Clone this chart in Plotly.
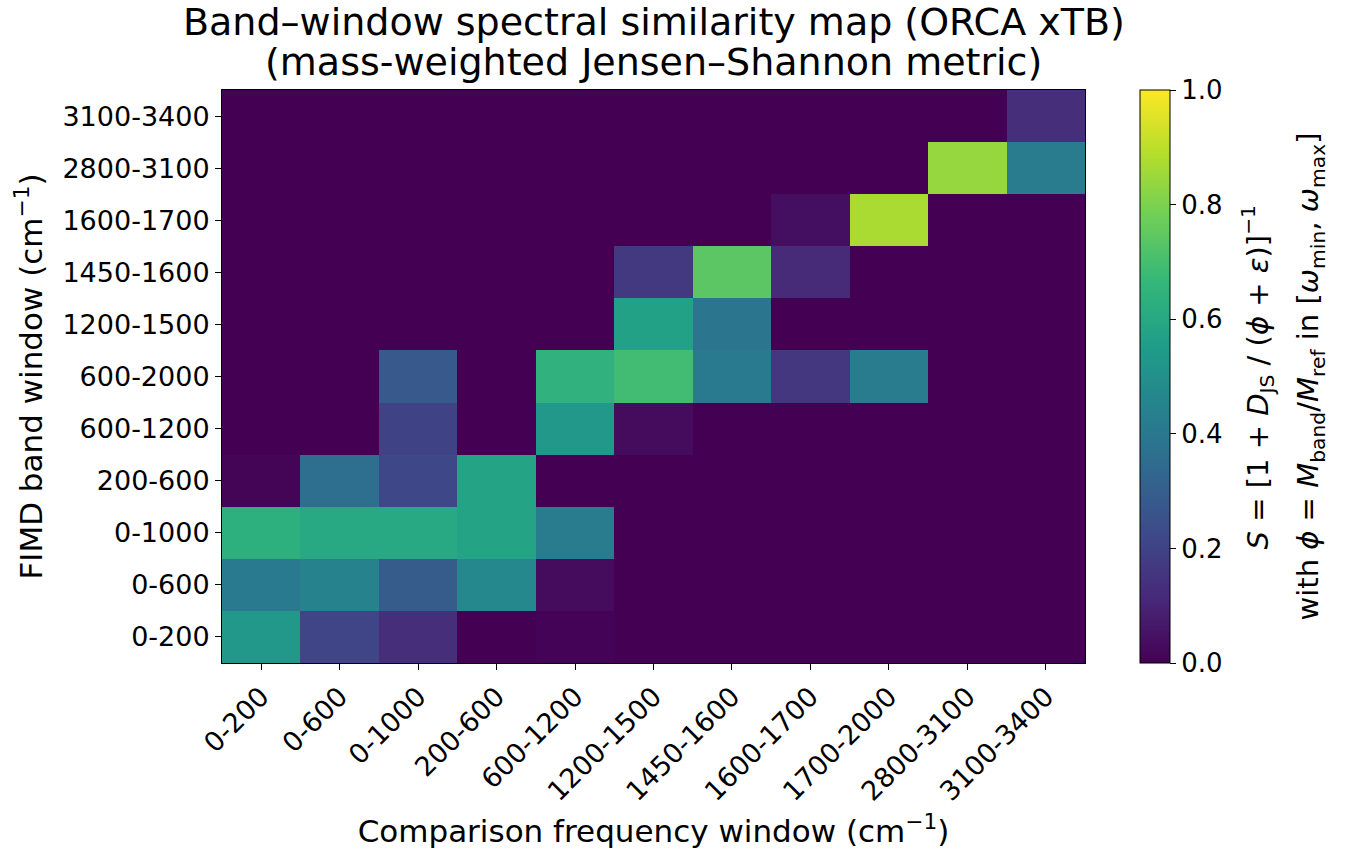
import plotly.graph_objects as go

# FIMD band windows (rows, bottom to top) and comparison windows (columns)
fimd_bands = ["0-200", "0-600", "0-1000", "200-600", "600-1200", "600-2000",
              "1200-1500", "1450-1600", "1600-1700", "2800-3100", "3100-3400"]
comparison_windows = ["0-200", "0-600", "0-1000", "200-600", "600-1200", "1200-1500",
                      "1450-1600", "1600-1700", "1700-2000", "2800-3100", "3100-3400"]

# Similarity S for each FIMD band (one list per row, columns follow comparison_windows)
s_0_200     = [0.53, 0.21, 0.13, 0.00, 0.005, 0.0, 0.0, 0.0, 0.0, 0.0, 0.0]
s_0_600     = [0.41, 0.45, 0.29, 0.47, 0.03, 0.0, 0.0, 0.0, 0.0, 0.0, 0.0]
s_0_1000    = [0.63, 0.60, 0.60, 0.58, 0.42, 0.0, 0.0, 0.0, 0.0, 0.0, 0.0]
s_200_600   = [0.01, 0.36, 0.22, 0.58, 0.0, 0.0, 0.0, 0.0, 0.0, 0.0, 0.0]
s_600_1200  = [0.0, 0.0, 0.20, 0.0, 0.53, 0.03, 0.0, 0.0, 0.0, 0.0, 0.0]
s_600_2000  = [0.0, 0.0, 0.28, 0.0, 0.64, 0.69, 0.41, 0.16, 0.42, 0.0, 0.0]
s_1200_1500 = [0.0, 0.0, 0.0, 0.0, 0.0, 0.57, 0.39, 0.0, 0.0, 0.0, 0.0]
s_1450_1600 = [0.0, 0.0, 0.0, 0.0, 0.0, 0.17, 0.74, 0.12, 0.0, 0.0, 0.0]
s_1600_1700 = [0.0, 0.0, 0.0, 0.0, 0.0, 0.0, 0.0, 0.04, 0.87, 0.0, 0.0]
s_2800_3100 = [0.0, 0.0, 0.0, 0.0, 0.0, 0.0, 0.0, 0.0, 0.0, 0.84, 0.42]
s_3100_3400 = [0.0, 0.0, 0.0, 0.0, 0.0, 0.0, 0.0, 0.0, 0.0, 0.0, 0.13]

similarity = [s_0_200, s_0_600, s_0_1000, s_200_600, s_600_1200, s_600_2000,
              s_1200_1500, s_1450_1600, s_1600_1700, s_2800_3100, s_3100_3400]

FONT = "DejaVu Sans"

fig = go.Figure(
    go.Heatmap(
        z=similarity,
        x=comparison_windows,
        y=fimd_bands,
        colorscale="Viridis",
        zmin=0.0,
        zmax=1.0,
        colorbar=dict(
            x=1.0637,
            xanchor="left",
            xpad=0,
            y=0.5,
            yanchor="middle",
            ypad=0,
            len=1.0,
            lenmode="fraction",
            thickness=30,
            outlinewidth=1,
            outlinecolor="black",
            ticks="outside",
            ticklen=6,
            tickcolor="black",
            tickvals=[0.0, 0.2, 0.4, 0.6, 0.8, 1.0],
            ticktext=["0.0", "0.2", "0.4", "0.6", "0.8", "1.0"],
            tickfont=dict(family=FONT, size=26, color="black"),
        ),
        hovertemplate="%{y} vs %{x}: %{z:.2f}<extra></extra>",
    )
)

# Two-line title, each line placed above the plotting area
title_lines = ["Band–window spectral similarity map (ORCA xTB)",
               "(mass-weighted Jensen–Shannon metric)"]
title_y = [1.1187, 1.0489]
for line, yy in zip(title_lines, title_y):
    fig.add_annotation(
        text=line, x=0.5, y=yy, xref="paper", yref="paper",
        xanchor="center", yanchor="middle", showarrow=False,
        font=dict(family=FONT, size=38, color="black"),
    )

# Colour-bar label: definition of S, then the definition of phi
cbar_lines = [
    "<i>S</i> = [1 + <i>D</i><sub>JS</sub> / (<i>ϕ</i> + <i>ε</i>)]<sup>−1</sup>",
    "with <i>ϕ</i> = <i>M</i><sub>band</sub>/<i>M</i><sub>ref</sub> in "
    "[<i>ω</i><sub>min</sub>, <i>ω</i><sub>max</sub>]",
]
cbar_x = [1.1993, 1.2607]
for line, xx in zip(cbar_lines, cbar_x):
    fig.add_annotation(
        text=line, x=xx, y=0.5, xref="paper", yref="paper",
        xanchor="center", yanchor="middle", textangle=-90, showarrow=False,
        font=dict(family=FONT, size=29, color="black"),
    )

fig.update_layout(
    width=1357,
    height=858,
    margin=dict(l=222, r=272, t=90, b=195),
    paper_bgcolor="white",
    plot_bgcolor="white",
    font=dict(family=FONT, color="black"),
)

fig.update_xaxes(
    type="category",
    tickangle=-45,
    ticks="outside",
    ticklen=6,
    tickcolor="black",
    showline=True,
    linecolor="black",
    linewidth=1,
    mirror=True,
    tickfont=dict(family=FONT, size=27, color="black"),
    title=dict(text="Comparison frequency window (cm<sup>−1</sup>)",
               font=dict(family=FONT, size=31, color="black"), standoff=14),
)
fig.update_yaxes(
    type="category",
    ticks="outside",
    ticklen=6,
    tickcolor="black",
    showline=True,
    linecolor="black",
    linewidth=1,
    mirror=True,
    tickfont=dict(family=FONT, size=27, color="black"),
    title=dict(text="FIMD band window (cm<sup>−1</sup>)",
               font=dict(family=FONT, size=31, color="black"), standoff=10),
)

fig.write_html("out.html")
